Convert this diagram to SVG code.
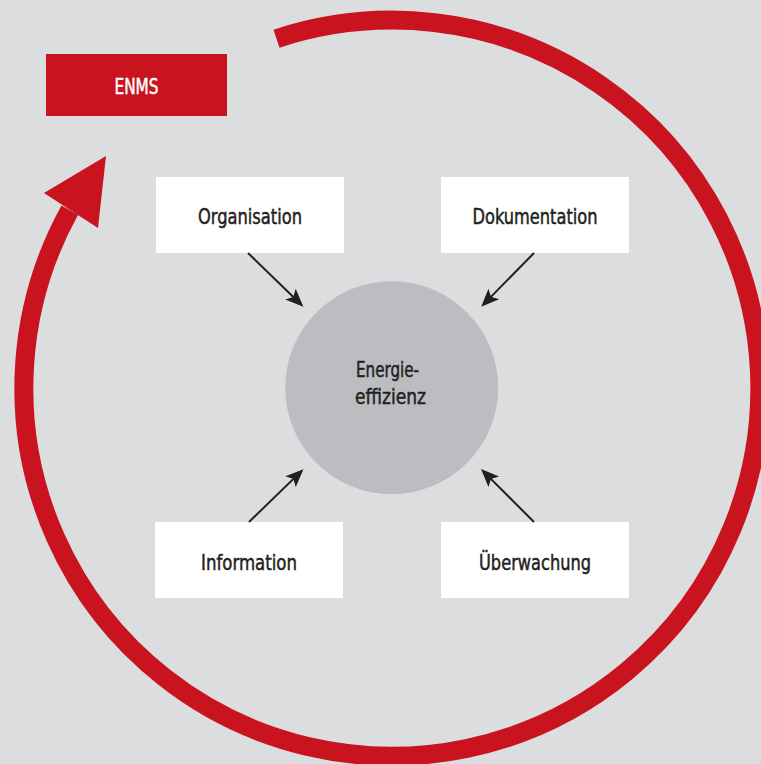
<svg xmlns="http://www.w3.org/2000/svg" width="761" height="764" viewBox="0 0 761 764">
  <style>
    .lbl { font-family: "Liberation Sans Narrow", "DejaVu Sans Condensed", "Liberation Sans", sans-serif; font-size: 22px; fill: #231f20; stroke: #231f20; stroke-width: 0.5px; text-anchor: middle; }
    .inv { fill: #ffffff; stroke: #ffffff; }
    .box { fill: #ffffff; }
    .conn { stroke: #231f20; stroke-width: 2; fill: none; marker-end: url(#ah); }
  </style>
  <defs>
    <marker id="ah" markerUnits="userSpaceOnUse" orient="auto" markerWidth="30" markerHeight="30" refX="0" refY="0" viewBox="-10 -10 30 20" overflow="visible">
      <path d="M10,0 L-8,-7.5 L-4,0 L-8,7.5 Z" fill="#231f20"/>
    </marker>
  </defs>
  <rect x="0" y="0" width="761" height="764" fill="#dcdddf"/>

  <g id="cycle">
    <path d="M276.5,38.7 A368,368 0 1 1 69.8,210.1" fill="none" stroke="#c9141f" stroke-width="19"/>
    <polygon points="106,156 44,193 98,228" fill="#c9141f"/>
  </g>

  <g id="enms">
    <rect x="46" y="54" width="181" height="62" fill="#c9141f"/>
    <text class="lbl inv" x="136.5" y="94" textLength="44" lengthAdjust="spacingAndGlyphs">ENMS</text>
  </g>

  <g id="energieeffizienz">
    <circle cx="391.7" cy="387.7" r="106.5" fill="#bcbdc0"/>
    <text class="lbl" x="387.5" y="377" textLength="63" lengthAdjust="spacingAndGlyphs">Energie-</text>
    <text class="lbl" x="390.5" y="404" textLength="71" lengthAdjust="spacingAndGlyphs">effizienz</text>
  </g>

  <g id="organisation">
    <rect class="box" x="156" y="177" width="188" height="76"/>
    <text class="lbl" x="250" y="224" textLength="104" lengthAdjust="spacingAndGlyphs">Organisation</text>
  </g>

  <g id="dokumentation">
    <rect class="box" x="441" y="177" width="188" height="76"/>
    <text class="lbl" x="535" y="224" textLength="125" lengthAdjust="spacingAndGlyphs">Dokumentation</text>
  </g>

  <g id="information">
    <rect class="box" x="155" y="522" width="188" height="76"/>
    <text class="lbl" x="249" y="570" textLength="96" lengthAdjust="spacingAndGlyphs">Information</text>
  </g>

  <g id="ueberwachung">
    <rect class="box" x="441" y="522" width="188" height="76"/>
    <text class="lbl" x="535" y="570" textLength="112" lengthAdjust="spacingAndGlyphs">Überwachung</text>
  </g>

  <g id="connectors">
    <line class="conn" x1="248" y1="253" x2="296.2" y2="299.7"/>
    <line class="conn" x1="534" y1="253" x2="488.2" y2="299.6"/>
    <line class="conn" x1="249" y1="522" x2="296.3" y2="476.1"/>
    <line class="conn" x1="534" y1="522" x2="488.1" y2="476.1"/>
  </g>
</svg>
